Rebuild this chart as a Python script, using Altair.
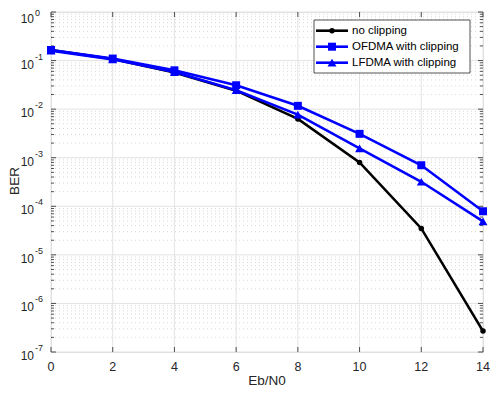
import altair as alt
import pandas as pd

# ---- data ----
ebn0 = [0, 2, 4, 6, 8, 10, 12, 14]
ber_noclip = [0.165, 0.108, 0.057, 0.024, 0.0063, 0.00080, 3.5e-5, 2.7e-7]
ber_ofdma = [0.165, 0.110, 0.063, 0.031, 0.0117, 0.0031, 0.00070, 7.9e-5]
ber_lfdma = [0.160, 0.106, 0.058, 0.0245, 0.0077, 0.00155, 0.00032, 4.9e-5]
series_names = ["no clipping", "OFDMA with clipping", "LFDMA with clipping"]
x_ticks = [0, 2, 4, 6, 8, 10, 12, 14]
y_exponents = [0, -1, -2, -3, -4, -5, -6, -7]
minor_mult = [2, 3, 4, 5, 6, 7, 8, 9]
x_title = "Eb/N0"
y_title = "BER"

TOP = 4
LEFT = 43
W, H = 432, 340
AX = "#262626"
FONT = "Liberation Sans"

xscale = alt.Scale(domain=[0, 14], nice=False, zero=False)
yscale = alt.Scale(type="log", domain=[1e-7, 1], nice=False)

major_y = pd.DataFrame({"v": [10.0 ** e for e in y_exponents],
                        "e": y_exponents,
                        "base": ["10"] * len(y_exponents),
                        "sup": [str(e) for e in y_exponents]})
minor_y = pd.DataFrame({"v": [m * 10.0 ** e for e in y_exponents[1:] for m in minor_mult]})
xt = pd.DataFrame({"x": x_ticks, "lab": [str(t) for t in x_ticks]})

Y = lambda: alt.Y("v:Q", scale=yscale, axis=None)
Xt = lambda: alt.X("x:Q", scale=xscale, axis=None)

minor_grid = alt.Chart(minor_y).mark_rule(color="#cfcfcf", strokeWidth=0.8, strokeDash=[1, 3]).encode(
    y=Y(), x=alt.value(0), x2=alt.value(W))
major_grid_y = alt.Chart(major_y).mark_rule(color="#e3e3e3", strokeWidth=1).encode(
    y=Y(), x=alt.value(0), x2=alt.value(W))
major_grid_x = alt.Chart(xt).mark_rule(color="#e3e3e3", strokeWidth=1).encode(
    x=Xt(), y=alt.value(0), y2=alt.value(H))

# ticks (inward, on all four sides)
tk = dict(color=AX, strokeWidth=0.8)
ticks = [
    alt.Chart(xt).mark_rule(**tk).encode(x=Xt(), y=alt.value(H), y2=alt.value(H - 5)),
    alt.Chart(xt).mark_rule(**tk).encode(x=Xt(), y=alt.value(0), y2=alt.value(5)),
    alt.Chart(major_y).mark_rule(**tk).encode(y=Y(), x=alt.value(0), x2=alt.value(5)),
    alt.Chart(major_y).mark_rule(**tk).encode(y=Y(), x=alt.value(W), x2=alt.value(W - 5)),
    alt.Chart(minor_y).mark_rule(**tk).encode(y=Y(), x=alt.value(0), x2=alt.value(3)),
    alt.Chart(minor_y).mark_rule(**tk).encode(y=Y(), x=alt.value(W), x2=alt.value(W - 3)),
]

# y tick labels 10^e (top one nudged down to stay inside, like the reference)
lab_layers = []
for cond, d_base, d_sup in [("datum.e < 0", 4, -4), ("datum.e == 0", 7, 1)]:
    lab_layers.append(alt.Chart(major_y).transform_filter(cond).mark_text(
        align="right", baseline="middle", dy=d_base, font=FONT, fontSize=12, color=AX).encode(
        y=Y(), x=alt.value(-17), text="base:N"))
    lab_layers.append(alt.Chart(major_y).transform_filter(cond).mark_text(
        align="left", baseline="middle", dy=d_sup, font=FONT, fontSize=9, color=AX).encode(
        y=Y(), x=alt.value(-16), text="sup:N"))

# x tick labels
xlab = alt.Chart(xt).mark_text(align="center", baseline="middle", font=FONT, fontSize=12.5, color=AX).encode(
    x=Xt(), y=alt.value(H + 15), text="lab:N")

titles = pd.DataFrame({"xt": [x_title], "yt": [y_title]})
xtitle = alt.Chart(titles).mark_text(align="center", baseline="middle", font=FONT, fontSize=13.5,
                                     color=AX).encode(
    x=alt.value(W / 2), y=alt.value(H + 29), text="xt:N")
ytitle = alt.Chart(titles).mark_text(align="center", baseline="middle", font=FONT, fontSize=13.5,
                                     color=AX, angle=270).encode(
    x=alt.value(-36), y=alt.value(H / 2 - 1), text="yt:N")

# series
styles = [
    ("black", "circle", 30, ber_noclip),
    ("#0000ff", "square", 64, ber_ofdma),
    ("#0000ff", "triangle-up", 80, ber_lfdma),
]
series_layers = []
for name, (col, shp, sz, vals) in zip(series_names, styles):
    df = pd.DataFrame({"x": ebn0, "v": vals, "s": name})
    base = alt.Chart(df).encode(x=Xt(), y=Y())
    series_layers.append(base.mark_line(color=col, strokeWidth=2.6))
    series_layers.append(base.mark_point(color=col, shape=shp, size=sz, filled=True, opacity=1))

# legend
leg_x0, leg_x1 = W - 169, W - 13
leg_y0, leg_y1 = 20 - 8 - TOP, 73 - 8 - TOP
legend_layers = [
    alt.Chart(pd.DataFrame({"a": [0]})).mark_rect(fill="white", stroke=AX, strokeWidth=0.8).encode(
        x=alt.value(leg_x0), x2=alt.value(leg_x1), y=alt.value(leg_y0), y2=alt.value(leg_y1))
]
for i, (name, (col, shp, sz, _)) in enumerate(zip(series_names, styles)):
    yy = 30.7 - 8 - TOP + 16 * i
    d = pd.DataFrame({"name": [name]})
    legend_layers.append(alt.Chart(d).mark_rule(color=col, strokeWidth=2.6).encode(
        x=alt.value(leg_x0 + 2), x2=alt.value(leg_x0 + 34), y=alt.value(yy)))
    legend_layers.append(alt.Chart(d).mark_point(color=col, shape=shp, size=sz, filled=True, opacity=1).encode(
        x=alt.value(leg_x0 + 18), y=alt.value(yy)))
    legend_layers.append(alt.Chart(d).mark_text(align="left", baseline="middle", font=FONT, fontSize=11.5,
                                                color="black").encode(
        x=alt.value(leg_x0 + 38), y=alt.value(yy), text="name:N"))

chart = alt.layer(
    minor_grid, major_grid_y, major_grid_x, *ticks, *lab_layers, xlab, xtitle, ytitle,
    *series_layers, *legend_layers
).properties(
    width=W, height=H,
    autosize=alt.AutoSizeParams(type="none"),
    padding={"left": LEFT, "top": TOP, "right": 482 - LEFT - W, "bottom": 35},
).configure_view(stroke=AX, strokeWidth=1).configure(background="white")

chart.save("out.html", embed_options={"renderer": "svg", "actions": False})
